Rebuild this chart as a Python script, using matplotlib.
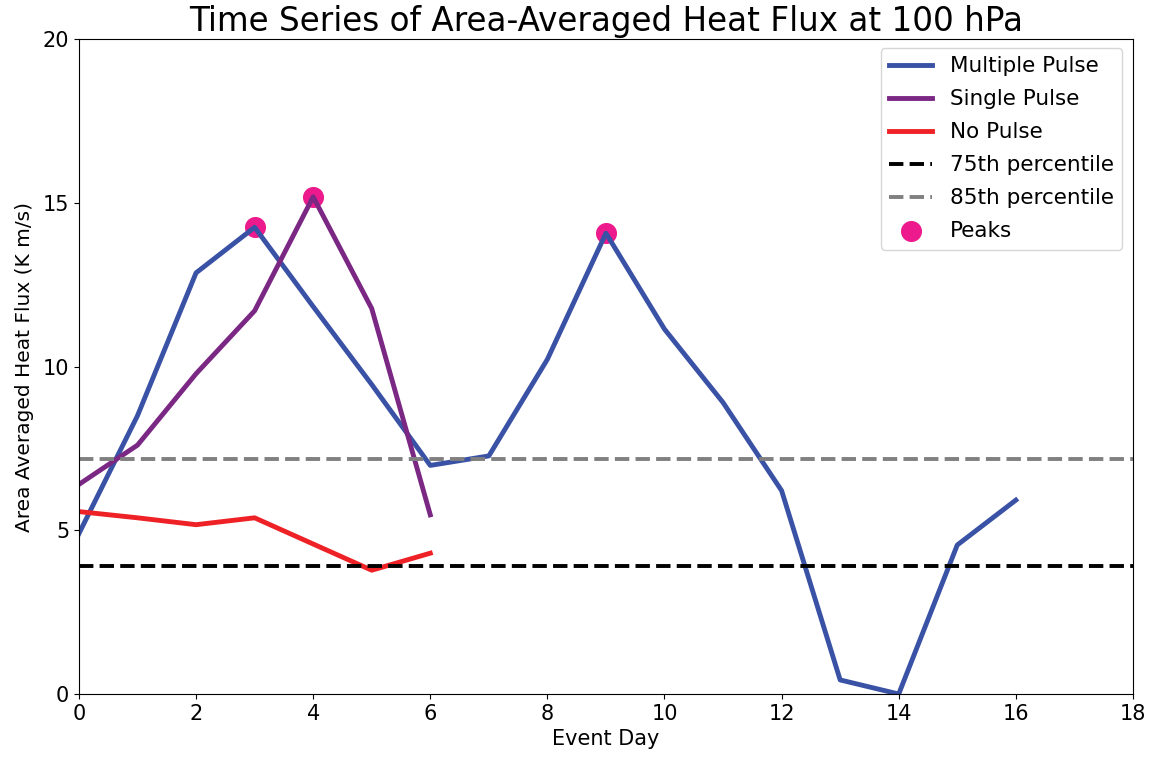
import matplotlib
matplotlib.use("Agg")
import matplotlib.pyplot as plt

# area-averaged heat flux at 100 hPa (K m/s) by event day
multi_days = list(range(0, 17))
multi_flux = [4.9, 8.5, 12.86, 14.25, 11.83, 9.45, 6.98, 7.27, 10.22, 14.07,
              11.14, 8.9, 6.21, 0.43, 0.0, 4.55, 5.92]
single_days = list(range(0, 7))
single_flux = [6.4, 7.6, 9.78, 11.7, 15.18, 11.77, 5.47]
none_days = list(range(0, 7))
none_flux = [5.57, 5.38, 5.17, 5.38, 4.58, 3.78, 4.3]

p75 = 3.91
p85 = 7.19

peak_days = [3, 4, 9]
peak_flux = [14.25, 15.18, 14.07]

fig = plt.figure(figsize=(11.51, 7.57), dpi=100)
ax = fig.add_axes([0.0686, 0.0832, 0.9157, 0.8653])

ax.plot(multi_days, multi_flux, color="#3a52a5", lw=3.5, label="Multiple Pulse")
ax.plot(single_days, single_flux, color="#7b2784", lw=3.5, label="Single Pulse")
ax.plot(none_days, none_flux, color="#ee2226", lw=3.5, label="No Pulse")
ax.axhline(p75, color="black", ls="--", lw=2.8, label="75th percentile")
ax.axhline(p85, color="grey", ls="--", lw=2.8, label="85th percentile")
ax.scatter(peak_days, peak_flux, s=200, color="#ec1a8c", zorder=1, label="Peaks")

ax.set_xlim(0, 18)
ax.set_ylim(0, 20)
ax.set_xticks(range(0, 19, 2))
ax.set_yticks(range(0, 21, 5))
ax.tick_params(labelsize=15)
ax.set_xlabel("Event Day", fontsize=15)
ax.set_ylabel("Area Averaged Heat Flux (K m/s)", fontsize=14.5, labelpad=6)
ax.set_title("Time Series of Area-Averaged Heat Flux at 100 hPa", fontsize=23.5)
ax.legend(loc="upper right", fontsize=15.5, labelspacing=0.6,
          bbox_to_anchor=(1.0, 1.003))

fig.savefig("out.png", dpi=100)
